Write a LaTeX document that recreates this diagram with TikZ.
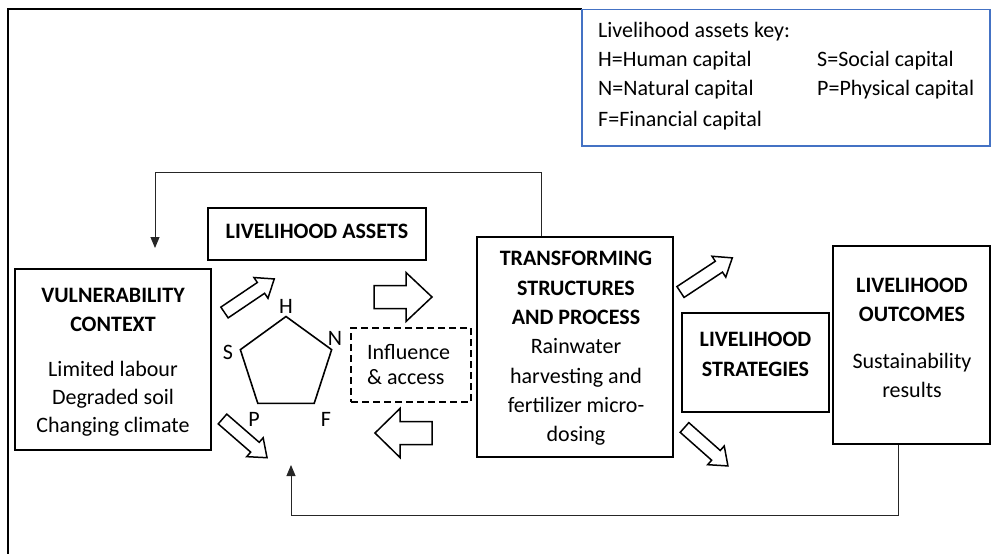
\documentclass[tikz,border=0pt]{standalone}
\usepackage{fontspec}
\setmainfont{Carlito}
\usetikzlibrary{shapes.geometric,arrows.meta}
\definecolor{keyblue}{HTML}{4472C4}
\newcommand{\blockarr}[6]{%
  \begin{scope}[shift={#1}, rotate=#2]
    \draw[barrow] (0,-#4) -- ({#3-#6},-#4) -- ({#3-#6},-#5) -- (#3,0) -- ({#3-#6},#5) -- ({#3-#6},#4) -- (0,#4) -- cycle;
  \end{scope}}
\begin{document}
\begin{tikzpicture}[x=1pt,y=-1pt,
  boxs/.style={draw, line width=1.6pt, inner sep=0pt},
  ttl/.style={font=\fontsize{22}{29.5}\selectfont\bfseries, align=center, inner sep=0pt},
  bdy/.style={font=\fontsize{22}{28}\selectfont, align=center, inner sep=0pt},
  keytxt/.style={font=\fontsize{22}{24}\selectfont, anchor=base west, inner sep=0pt},
  lbl/.style={font=\fontsize{22}{24}\selectfont, inner sep=0pt},
  barrow/.style={draw, fill=white, line width=1.5pt, line join=miter},
  fb/.style={line width=0.9pt, draw=black!85, -{Triangle[width=9pt,length=11pt]}},
]
\useasboundingbox (0,0) rectangle (991,554);
% outer frame (cropped)
\draw[line width=2pt] (8,554) -- (8,9) -- (582,9);
% key
\node[draw=keyblue, line width=1.6pt, minimum width=408, minimum height=136.5, inner sep=0pt] (key) at (786,77.75) {};
\node[keytxt] (k0) at (598,37) {Livelihood assets key:};
\node[keytxt] (k1) at (598,66) {H=Human capital};
\node[keytxt] (k2) at (598,95) {N=Natural capital};
\node[keytxt] (k3) at (598,126) {F=Financial capital};
\node[keytxt] (k4) at (817,66) {S=Social capital};
\node[keytxt] (k5) at (817,95) {P=Physical capital};
% vulnerability
\node[boxs, minimum width=196, minimum height=181] (vul) at (113,359.5) {};
\node[ttl] (vulT) at (113,310) {VULNERABILITY\\CONTEXT};
\node[bdy] (vulB) at (113,399) {Limited labour\\Degraded soil\\Changing climate};
% assets
\node[boxs, minimum width=218, minimum height=52] (ass) at (317,234) {};
\node[ttl] (assT) at (317,231) {LIVELIHOOD ASSETS};
% transforming
\node[boxs, minimum width=196, minimum height=220] (tr) at (575,347) {};
\node[ttl] (trT) at (576,288) {TRANSFORMING\\STRUCTURES\\AND PROCESS};
\node[bdy, font=\fontsize{22}{29.3}\selectfont] (trB) at (576,392) {Rainwater\\harvesting and\\fertilizer micro-\\dosing};
% strategies
\node[boxs, minimum width=147, minimum height=99] (st) at (755.5,362.5) {};
\node[ttl] (stT) at (755.5,354.5) {LIVELIHOOD\\STRATEGIES};
% outcomes
\node[boxs, minimum width=157, minimum height=198] (oc) at (911.5,345) {};
\node[ttl] (ocT) at (912,300) {LIVELIHOOD\\OUTCOMES};
\node[bdy, font=\fontsize{22}{29}\selectfont] (ocB) at (912,375) {Sustainability\\results};
% influence
\node[draw, line width=1.6pt, dash pattern=on 7pt off 4pt, minimum width=120, minimum height=74, inner sep=0pt] (inf) at (411,365) {};
\node[bdy, align=left, anchor=west, font=\fontsize{22}{25}\selectfont] (infT) at (367,365) {Influence\\\& access};
% pentagon
\node[draw, line width=1.6pt, regular polygon, regular polygon sides=5, minimum size=96, inner sep=0pt] (pent) at (286,364.5) {};
\node[lbl] (lH) at (286,306) {H};
\node[lbl] (lN) at (335,338) {N};
\node[lbl] (lS) at (228,352) {S};
\node[lbl] (lP) at (254,419) {P};
\node[lbl] (lF) at (326,419) {F};
% block arrows
\blockarr{(224.5,312.5)}{34}{60}{6.5}{12.5}{16}
\blockarr{(222.5,419)}{-41}{59}{6.5}{12.5}{16}
\blockarr{(680.5,292)}{33.4}{62}{6.5}{12.5}{16}
\blockarr{(684.5,427.5)}{-41.5}{58}{6.5}{12.5}{16}
\blockarr{(374,297)}{0}{58}{11.5}{24.5}{26}
\blockarr{(432,433)}{180}{57}{11.5}{24.5}{25}
% feedback connectors
\coordinate (fbTop) at (155,172);
\coordinate (fbTip) at (155,248);
\coordinate (fbBot) at (291,515);
\coordinate (fbTip2) at (291,465);
\draw[fb] ([xshift=-34pt]tr.north) |- (fbTop) -- (fbTip);
\draw[fb] ([xshift=-13.5pt]oc.south) |- (fbBot) -- (fbTip2);
\end{tikzpicture}
\end{document}
